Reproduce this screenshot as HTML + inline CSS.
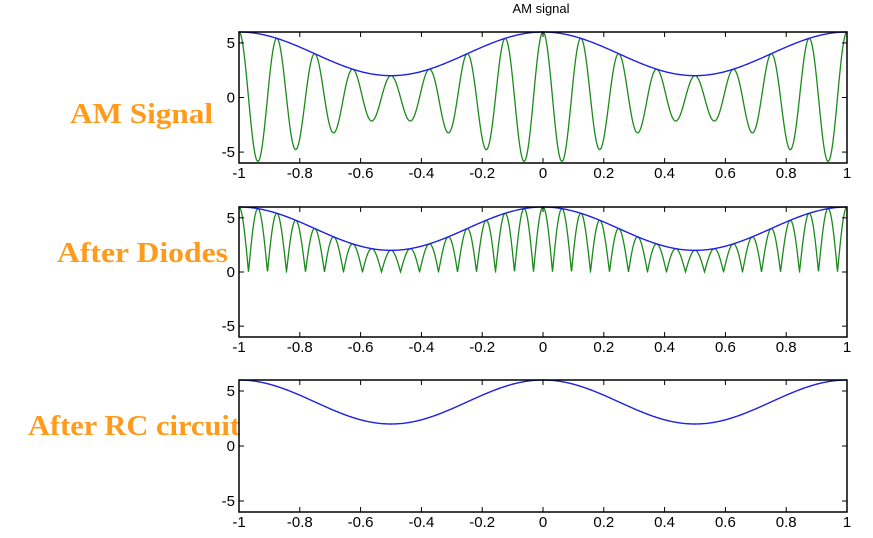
<!DOCTYPE html>
<html><head><meta charset="utf-8"><style>
html,body{margin:0;padding:0;background:#fff;}
svg{display:block;}
</style></head><body>
<svg id="s" width="873" height="538" xmlns="http://www.w3.org/2000/svg" font-family="Liberation Sans, sans-serif">
<text x="541" y="13" font-size="13" text-anchor="middle">AM signal</text>
<g font-family="Liberation Serif, serif" font-weight="bold" font-size="28" fill="#FF9A1A">
<text x="70" y="123" textLength="143" lengthAdjust="spacingAndGlyphs">AM Signal</text>
<text x="57" y="262" textLength="171" lengthAdjust="spacingAndGlyphs">After Diodes</text>
<text x="28" y="435" textLength="212" lengthAdjust="spacingAndGlyphs">After RC circuit</text>
</g>
</svg>
<script>
const s=document.getElementById('s');const NS='http://www.w3.org/2000/svg';
function el(t,a,txt){const e=document.createElementNS(NS,t);for(const k in a)e.setAttribute(k,a[k]);if(txt!==undefined)e.textContent=txt;s.appendChild(e);return e;}
const L=239,R=847;
const panels=[{t:32,b:163,m:0},{t:207,b:337,m:1},{t:380,b:512,m:2}];
panels.forEach(p=>{
 const X=x=>L+(x+1)/2*(R-L);const Y=y=>p.t+(6-y)/12*(p.b-p.t);
 const env=x=>4+2*Math.cos(2*Math.PI*x);
 if(p.m<2){let pts=[];for(let i=0;i<=3000;i++){const x=-1+2*i/3000;let v=env(x)*Math.cos(16*Math.PI*x);if(p.m==1)v=Math.abs(v);pts.push(X(x).toFixed(2)+','+Y(v).toFixed(2));}
  el('polyline',{points:pts.join(' '),fill:'none',stroke:'#1a8a1a','stroke-width':1.3});}
 let pts=[];for(let i=0;i<=600;i++){const x=-1+2*i/600;pts.push(X(x).toFixed(2)+','+Y(env(x)).toFixed(2));}
 el('polyline',{points:pts.join(' '),fill:'none',stroke:'#1f1fe6','stroke-width':1.4});
 el('rect',{x:L,y:p.t,width:R-L,height:p.b-p.t,fill:'none',stroke:'#000','stroke-width':1.5});
 for(let k=0;k<=10;k++){const x=-1+k*0.2;const px=X(x);
  el('line',{x1:px,y1:p.b,x2:px,y2:p.b-5,stroke:'#000','stroke-width':1});
  el('line',{x1:px,y1:p.t,x2:px,y2:p.t+5,stroke:'#000','stroke-width':1});
  let lab=Math.abs(x)<1e-9?'0':(Math.abs(Math.abs(x)-1)<1e-9?(x<0?'-1':'1'):x.toFixed(1));
  el('text',{x:px,y:p.b+15,'font-size':15,'text-anchor':'middle'},lab);}
 [5,0,-5].forEach(v=>{const py=Y(v);
  el('line',{x1:L,y1:py,x2:L+5,y2:py,stroke:'#000','stroke-width':1});
  el('line',{x1:R,y1:py,x2:R-5,y2:py,stroke:'#000','stroke-width':1});
  el('text',{x:L-4,y:py+5,'font-size':15,'text-anchor':'end'},String(v));});
});
</script>
</body></html>
